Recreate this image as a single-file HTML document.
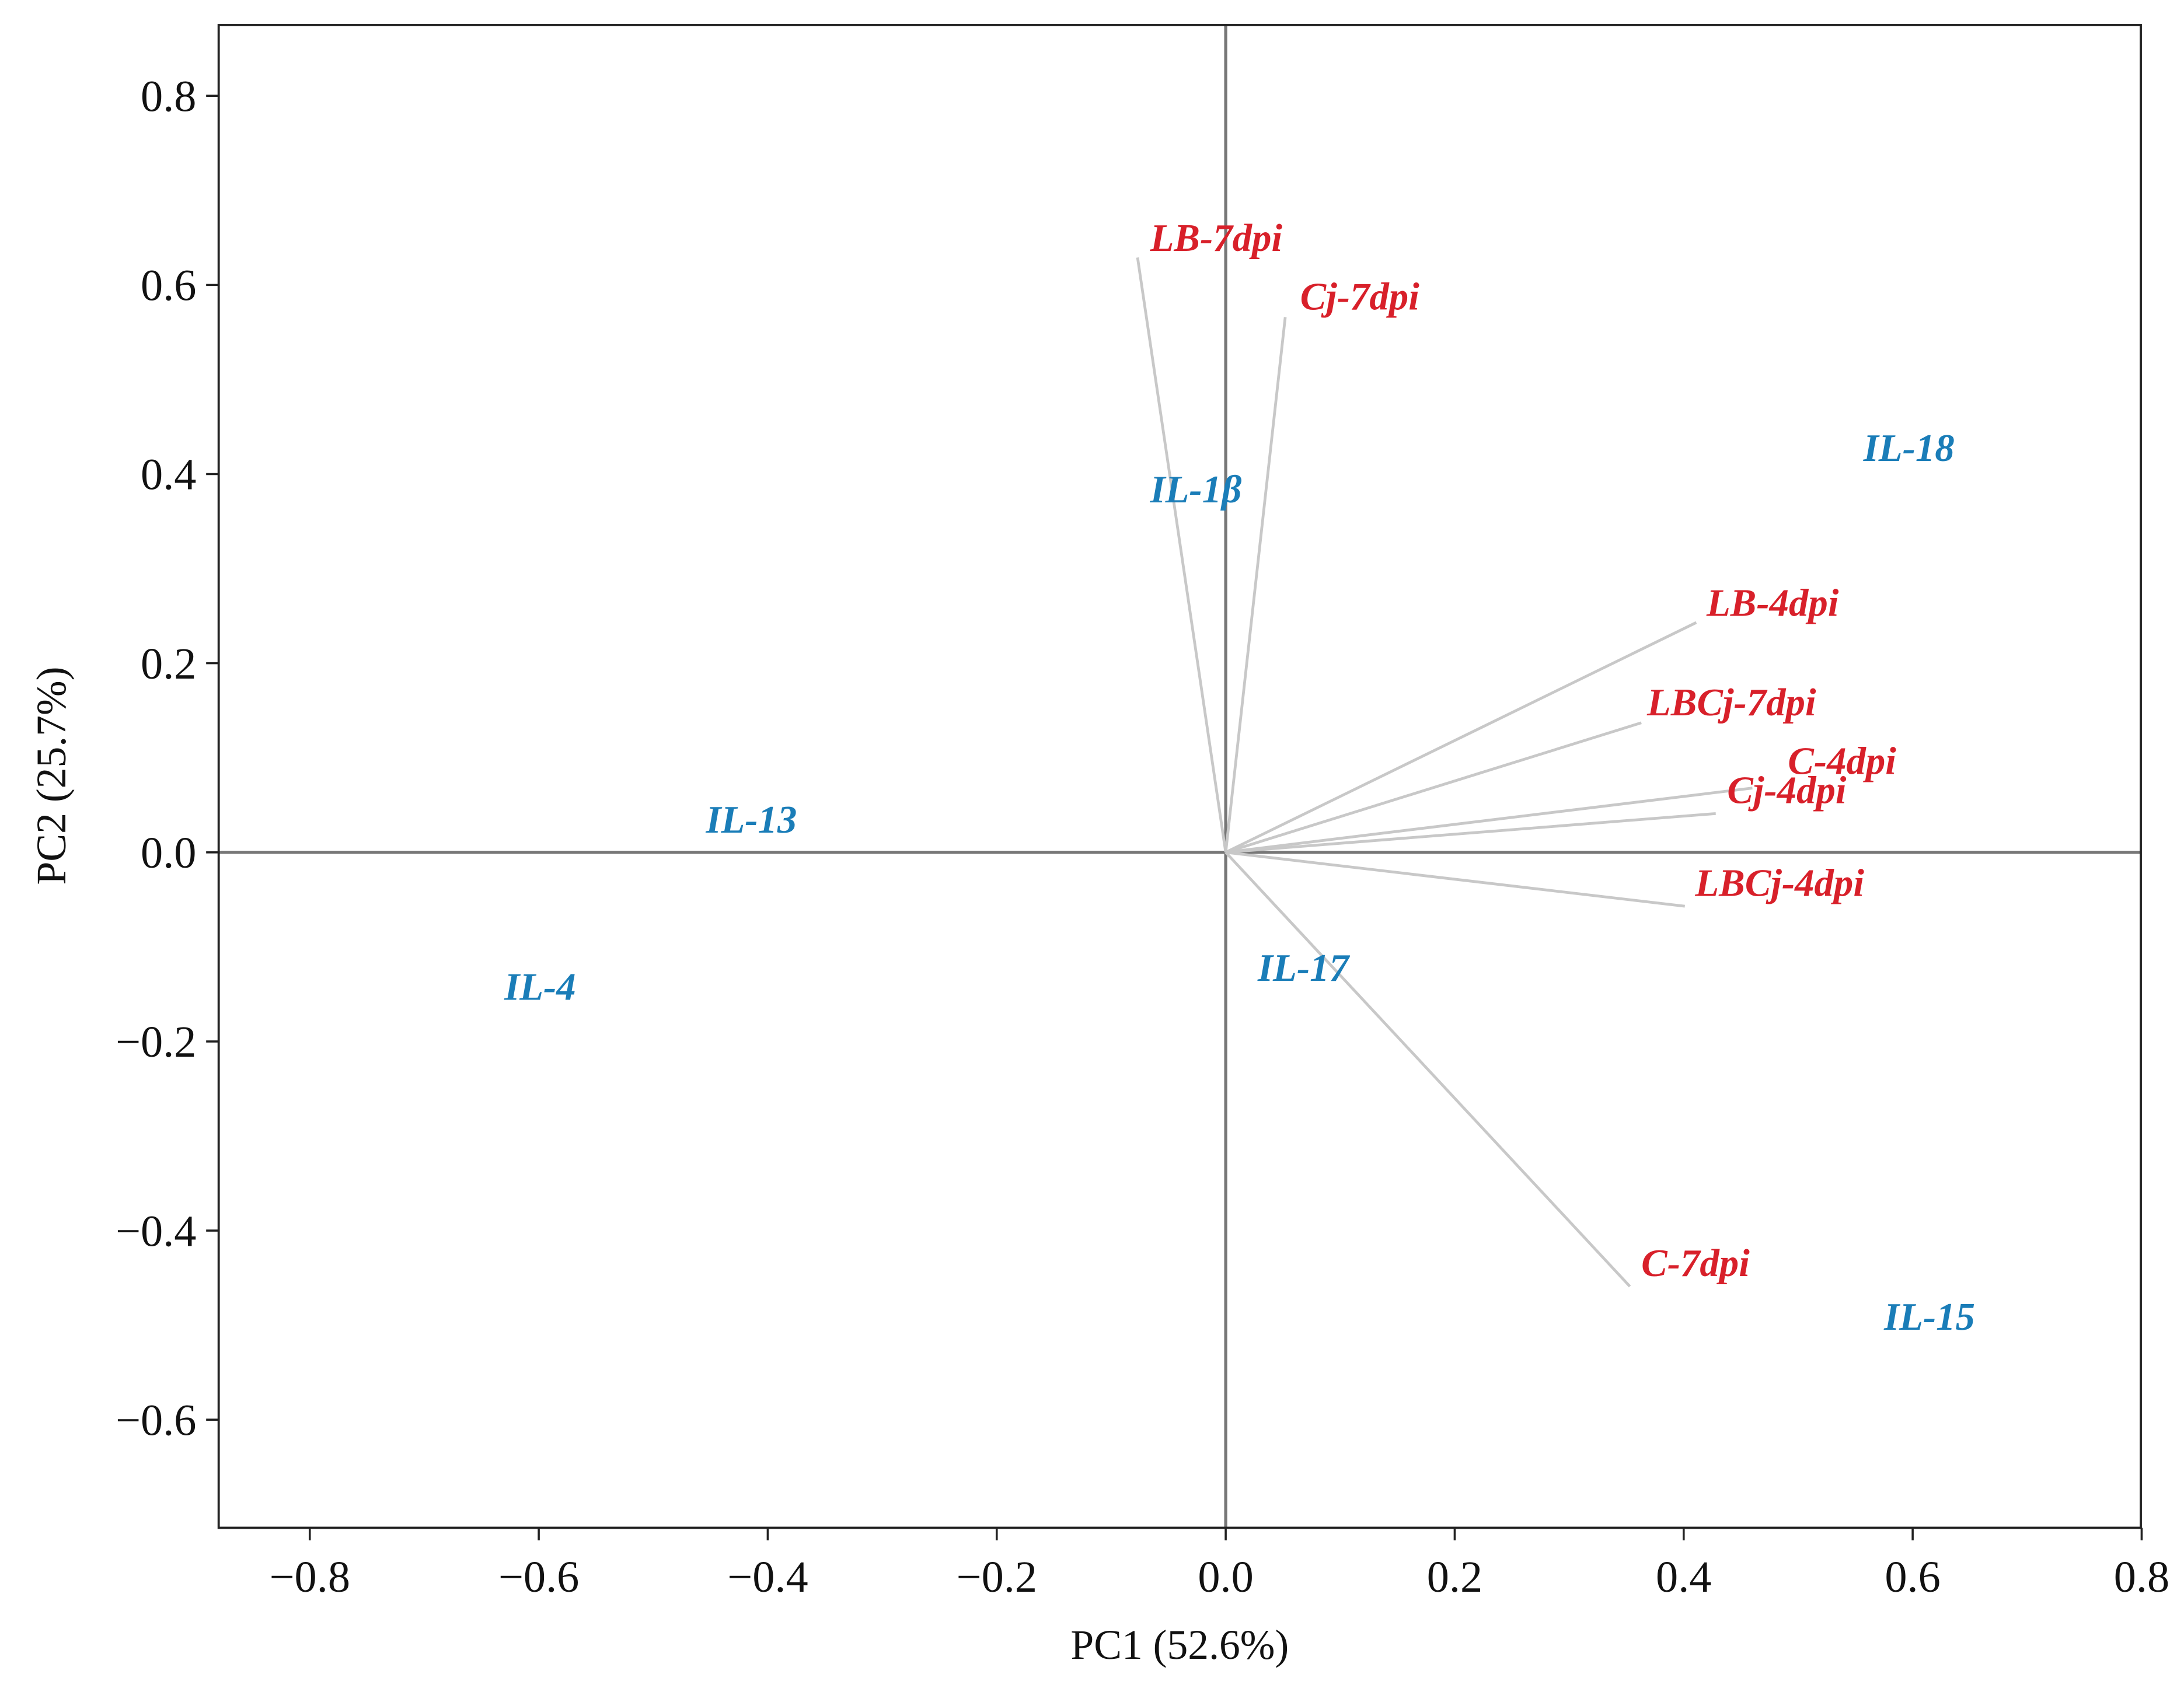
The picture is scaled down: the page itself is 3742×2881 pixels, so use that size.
<!DOCTYPE html>
<html><head><meta charset="utf-8"><style>
html,body{margin:0;padding:0;background:#fff;}
svg{display:block;}
</style></head><body>
<svg id="chart" width="3742" height="2881" viewBox="0 0 1568 1207" preserveAspectRatio="none" xmlns="http://www.w3.org/2000/svg"></svg>
<script>
const xTicks = [-0.8,-0.6,-0.4,-0.2,0.0,0.2,0.4,0.6,0.8];
const yTicks = [-0.6,-0.4,-0.2,0.0,0.2,0.4,0.6,0.8];
const vecNames = ["LB-7dpi","Cj-7dpi","LB-4dpi","LBCj-7dpi","C-4dpi","Cj-4dpi","LBCj-4dpi","C-7dpi"];
const vecX = [-0.077,0.052,0.411,0.363,0.46,0.428,0.401,0.353];
const vecY = [0.629,0.566,0.243,0.137,0.068,0.041,-0.057,-0.459];
const vecLabelX = [-0.066,0.065,0.420,0.368,0.491,0.438,0.410,0.363];
const vecLabelY = [0.636,0.574,0.250,0.145,0.083,0.052,-0.046,-0.448];
const varNames = ["IL-1β","IL-18","IL-13","IL-4","IL-17","IL-15"];
const varX = [-0.066,0.557,-0.454,-0.630,0.028,0.575];
const varY = [0.370,0.414,0.021,-0.156,-0.136,-0.505];

const L=157,R=1537,T=18,B=1097;
const sx = v => 880 + v*822;
const sy = v => 612 - v*679;
const NS="http://www.w3.org/2000/svg";
const svg=document.getElementById('chart');
function mk(tag,attrs,parent){const e=document.createElementNS(NS,tag);for(const k in attrs)e.setAttribute(k,attrs[k]);(parent||svg).appendChild(e);return e;}
const font='"Liberation Serif", serif';

let zx=mk('line',{x1:sx(0),x2:sx(0),y1:T,y2:B,stroke:'#777','stroke-width':2.2});


let zy=mk('line',{x1:L,x2:R,y1:sy(0),y2:sy(0),stroke:'#777','stroke-width':2.2});



vecNames.forEach((n,i)=>{
  const l=mk('line',{x1:sx(0),y1:sy(0),x2:sx(vecX[i]),y2:sy(vecY[i]),stroke:'#c8c8c8','stroke-width':2});
  
  
});
vecNames.forEach((n,i)=>{
  const t=mk('text',{x:sx(vecLabelX[i]),y:sy(vecLabelY[i]),fill:'#d8202a','font-family':font,'font-size':28,'font-style':'italic','font-weight':'bold'});
  t.textContent=n;
  
  
});
varNames.forEach((n,i)=>{
  const t=mk('text',{x:sx(varX[i]),y:sy(varY[i]),fill:'#1a7db8','font-family':font,'font-size':28,'font-style':'italic','font-weight':'bold'});
  t.textContent=n;
  
  
});

let fr=mk('rect',{x:L,y:T,width:R-L,height:B-T,fill:'none',stroke:'#222','stroke-width':1.6});



xTicks.forEach(v=>{
  const x=sx(v);
  const tk=mk('line',{x1:x,x2:x,y1:B,y2:B+9,stroke:'#222','stroke-width':1.5});
  
  
  const t=mk('text',{x:x,y:B+46,'text-anchor':'middle','font-family':font,'font-size':32,fill:'#111'});
  t.textContent=(v<0?'\u2212':'')+Math.abs(v).toFixed(1);
  
  
});
yTicks.forEach(v=>{
  const y=sy(v);
  const tk=mk('line',{x1:L-9,x2:L,y1:y,y2:y,stroke:'#222','stroke-width':1.5});
  
  
  const t=mk('text',{x:L-16,y:y+11,'text-anchor':'end','font-family':font,'font-size':32,fill:'#111'});
  t.textContent=(v<0?'\u2212':'')+Math.abs(v).toFixed(1);
  
  
});
let xt=mk('text',{x:847,y:1191,'text-anchor':'middle','font-family':font,'font-size':30,fill:'#111'});
xt.textContent='PC1 (52.6%)';


let yt=mk('text',{x:0,y:0,'text-anchor':'middle','font-family':font,'font-size':30,fill:'#111',transform:'translate(47,557) rotate(-90)'});
yt.textContent='PC2 (25.7%)';


</script>
</body></html>
